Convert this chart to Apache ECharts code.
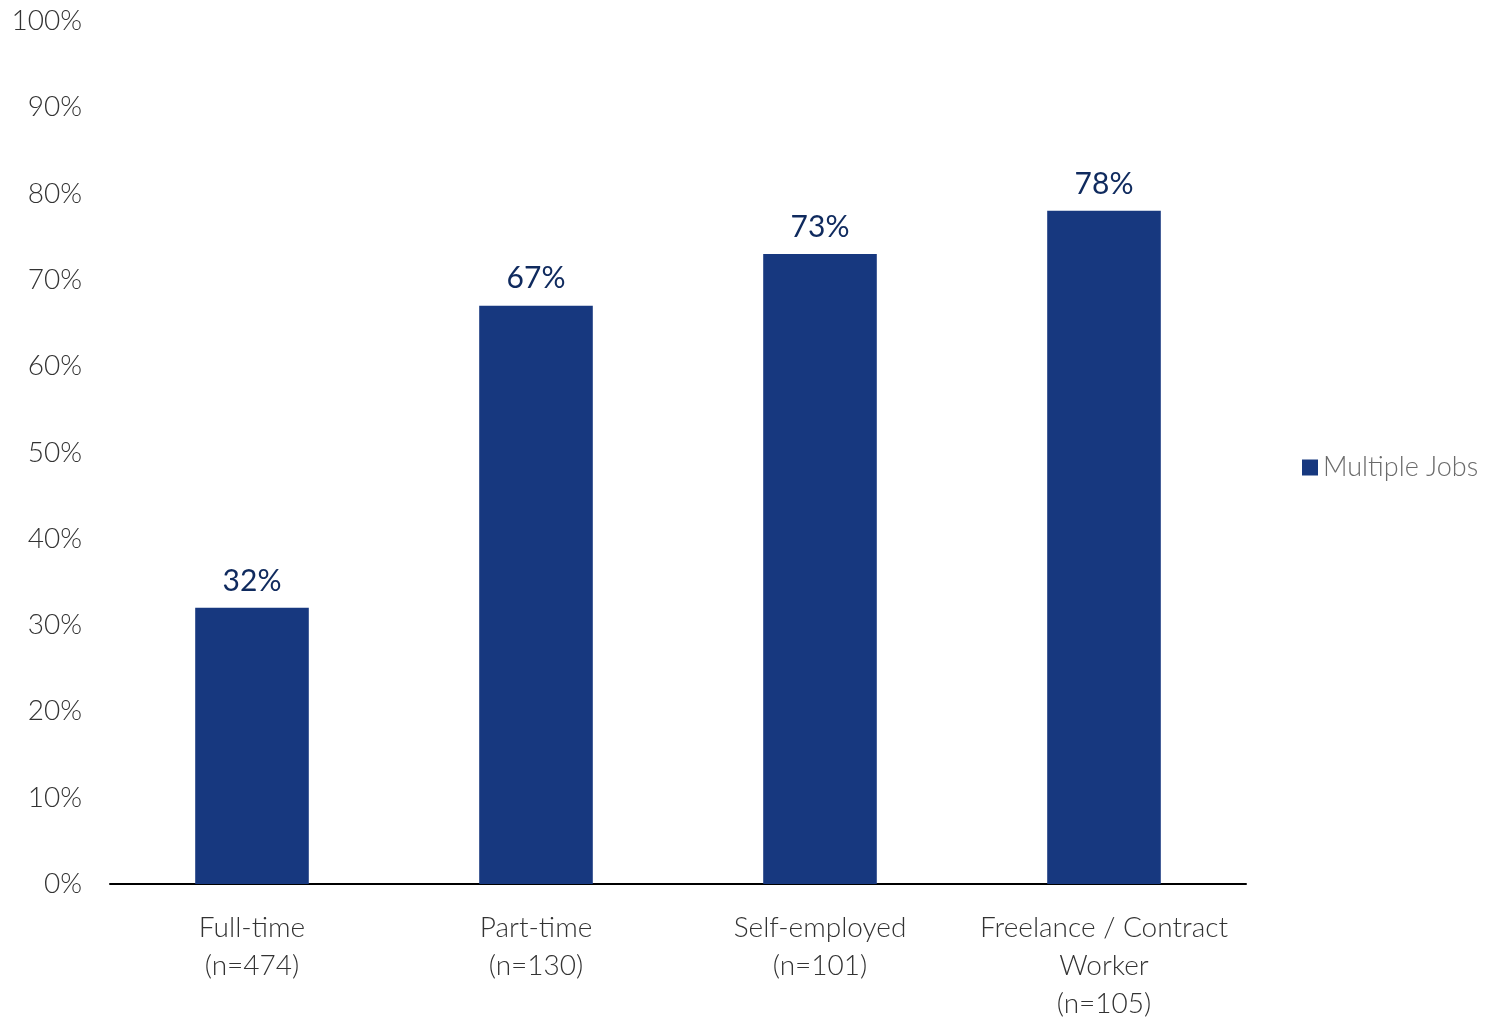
<!DOCTYPE html>
<html>
<head>
<meta charset="utf-8">
<script src="https://cdn.jsdelivr.net/npm/echarts@6/dist/echarts.min.js"></script>
<style>
  html, body { margin: 0; padding: 0; background: #fff; }
  #chart { width: 1486px; height: 1023px; }
</style>
</head>
<body>
<div id="chart"></div>
<script>
// Share of workers holding multiple jobs, by employment type
const categories = ['Full-time\n(n=474)', 'Part-time\n(n=130)', 'Self-employed\n(n=101)', 'Freelance / Contract\nWorker\n(n=105)'];
const seriesName = 'Multiple Jobs';
const values = [32, 67, 73, 78];

const FONT = 'Lato, "Open Sans", sans-serif';

const chart = echarts.init(document.getElementById('chart'));
chart.setOption({
  animation: false,
  textStyle: { fontFamily: FONT },
  grid: { left: 110, right: 240, top: 21, bottom: 132, containLabel: false },
  legend: {
    data: [seriesName],
    orient: 'vertical',
    left: 1297,
    top: 449,
    itemWidth: 16,
    itemHeight: 16,
    itemGap: 8,
    icon: 'rect',
    textStyle: { fontFamily: FONT, fontSize: 27, color: '#6b6b6b', fontWeight: 300 }
  },
  xAxis: {
    type: 'category',
    data: categories,
    axisLine: { lineStyle: { color: '#000', width: 2 } },
    axisTick: { show: false },
    axisLabel: {
      interval: 0,
      margin: 25,
      fontSize: 28,
      lineHeight: 38,
      color: '#333',
      fontWeight: 300,
      fontFamily: FONT
    }
  },
  yAxis: {
    type: 'value',
    min: 0,
    max: 100,
    interval: 10,
    axisLine: { show: false },
    axisTick: { show: false },
    splitLine: { show: false },
    axisLabel: {
      formatter: '{value}%',
      margin: 28,
      fontSize: 28,
      color: '#333',
      fontWeight: 300,
      fontFamily: FONT
    }
  },
  series: [{
    name: seriesName,
    type: 'bar',
    data: values,
    barWidth: '40%',
    itemStyle: { color: '#17387f' },
    label: {
      show: true,
      position: 'top',
      distance: 12,
      formatter: '{c}%',
      fontSize: 30,
      color: '#0f2a5e',
      fontFamily: FONT
    }
  }]
});
</script>
</body>
</html>
